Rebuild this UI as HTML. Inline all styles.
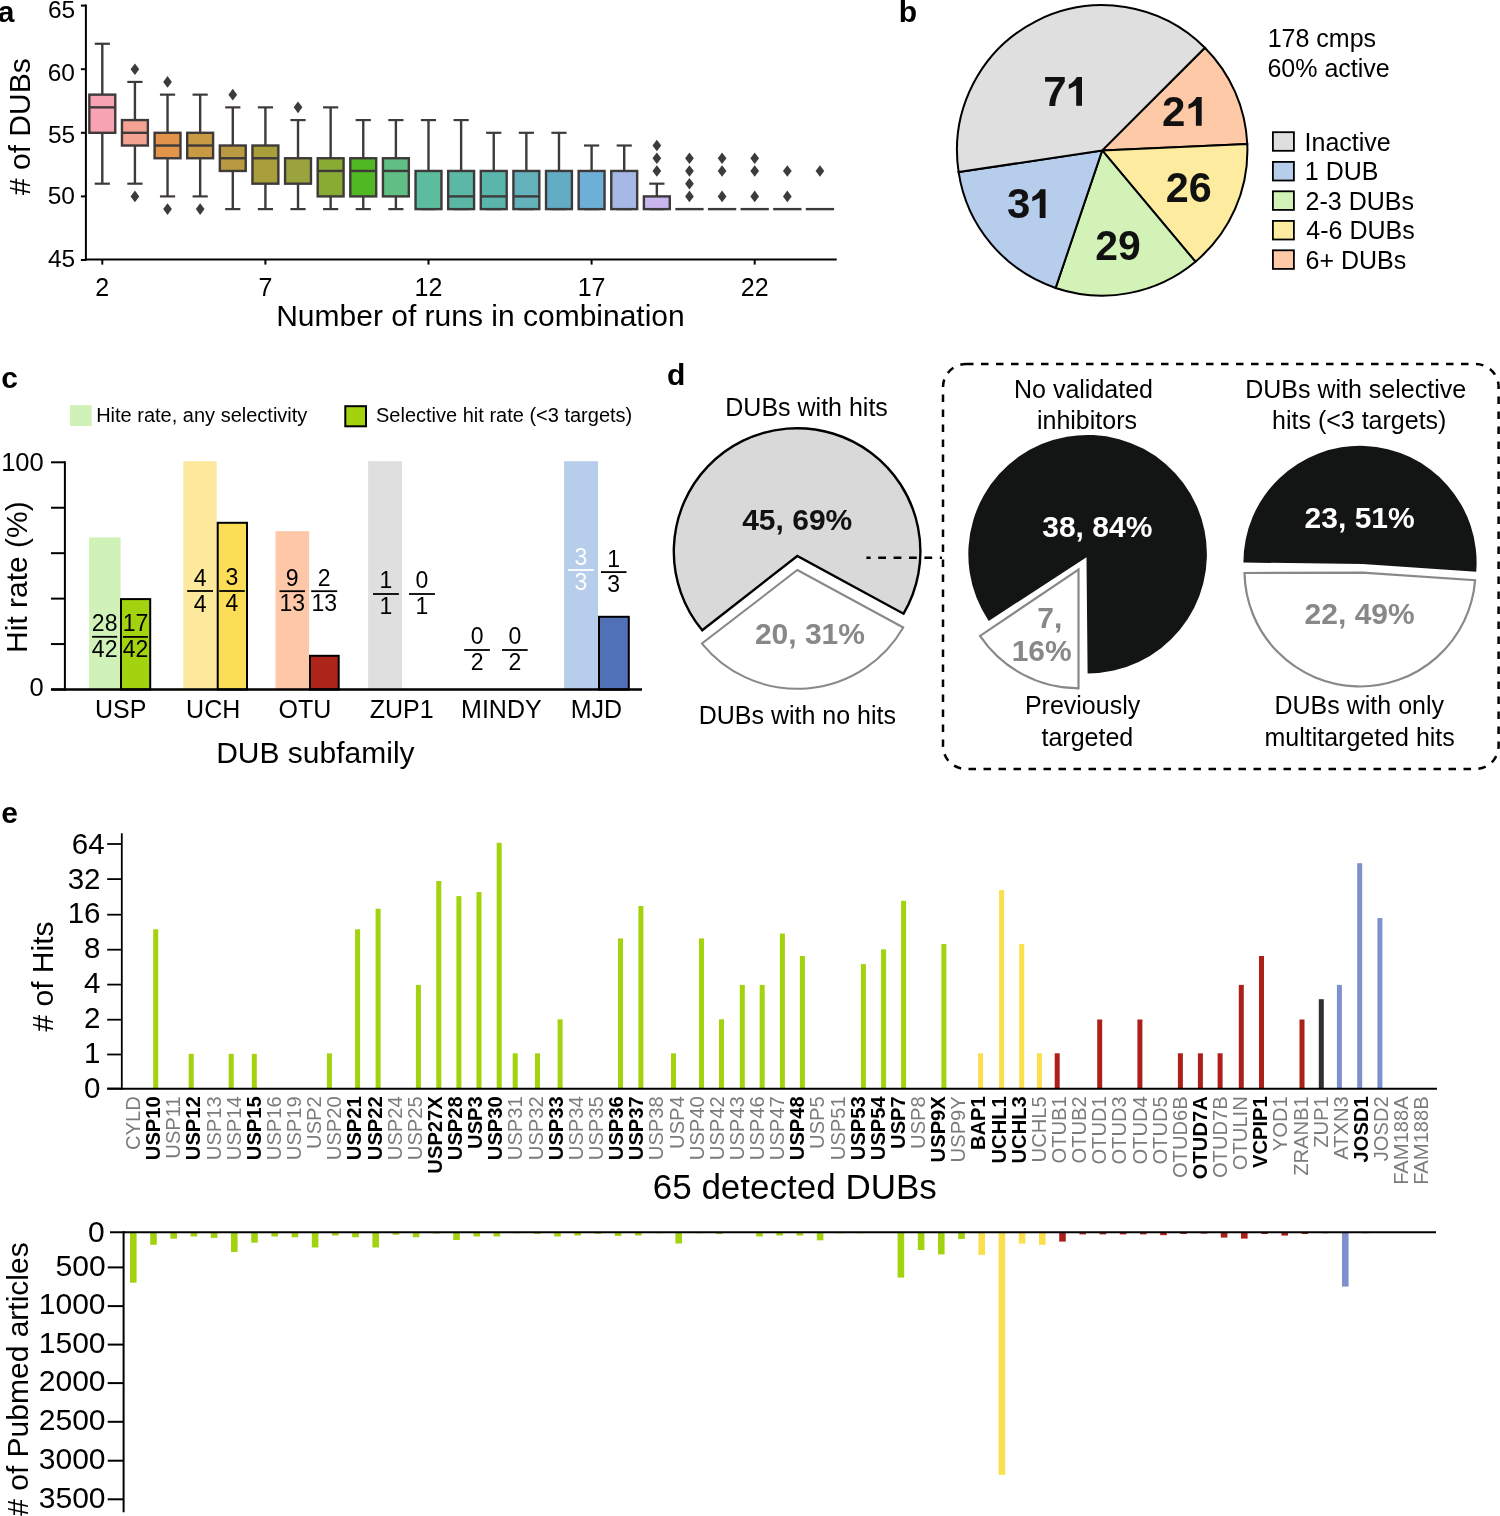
<!DOCTYPE html><html><head><meta charset="utf-8"><style>html,body{margin:0;padding:0;background:#fff;}svg{display:block;will-change:transform;}text{font-family:"Liberation Sans",sans-serif;}</style></head><body>
<svg width="1500" height="1516" viewBox="0 0 1500 1516" font-family="Liberation Sans, sans-serif">
<rect width="1500" height="1516" fill="#fff"/>
<text x="-2.2" y="21.7" font-size="30" font-weight="bold" fill="#000">a</text>
<line x1="85.9" y1="4.6" x2="85.9" y2="260.6" stroke="#000" stroke-width="2"/>
<line x1="84.9" y1="259.6" x2="836.7" y2="259.6" stroke="#000" stroke-width="2"/>
<line x1="80.9" y1="5.6" x2="85.9" y2="5.6" stroke="#000" stroke-width="2"/>
<text x="47.95" y="18.4" font-size="24.5" fill="#000">65</text>
<line x1="80.9" y1="69.2" x2="85.9" y2="69.2" stroke="#000" stroke-width="2"/>
<text x="47.7" y="81" font-size="24.5" fill="#000">60</text>
<line x1="80.9" y1="132.8" x2="85.9" y2="132.8" stroke="#000" stroke-width="2"/>
<text x="47.95" y="142.5" font-size="24.5" fill="#000">55</text>
<line x1="80.9" y1="196.4" x2="85.9" y2="196.4" stroke="#000" stroke-width="2"/>
<text x="47.7" y="204.4" font-size="24.5" fill="#000">50</text>
<line x1="80.9" y1="260" x2="85.9" y2="260" stroke="#000" stroke-width="2"/>
<text x="47.95" y="266.8" font-size="24.5" fill="#000">45</text>
<line x1="102.3" y1="259.6" x2="102.3" y2="264.6" stroke="#000" stroke-width="2"/>
<text x="102.3" y="296.3" font-size="25" text-anchor="middle">2</text>
<line x1="265.4" y1="259.6" x2="265.4" y2="264.6" stroke="#000" stroke-width="2"/>
<text x="265.4" y="296.3" font-size="25" text-anchor="middle">7</text>
<line x1="428.5" y1="259.6" x2="428.5" y2="264.6" stroke="#000" stroke-width="2"/>
<text x="428.5" y="296.3" font-size="25" text-anchor="middle">12</text>
<line x1="591.6" y1="259.6" x2="591.6" y2="264.6" stroke="#000" stroke-width="2"/>
<text x="591.6" y="296.3" font-size="25" text-anchor="middle">17</text>
<line x1="754.7" y1="259.6" x2="754.7" y2="264.6" stroke="#000" stroke-width="2"/>
<text x="754.7" y="296.3" font-size="25" text-anchor="middle">22</text>
<text transform="translate(30 0) rotate(-90)" x="-195" y="0" font-size="30" fill="#000"># of DUBs</text>
<text x="276.2" y="325.7" font-size="30" fill="#000">Number of runs in combination</text>
<line x1="102.3" y1="43.76" x2="102.3" y2="94.64" stroke="#3f3a3a" stroke-width="2.4"/>
<line x1="102.3" y1="132.8" x2="102.3" y2="183.68" stroke="#3f3a3a" stroke-width="2.4"/>
<line x1="94.7" y1="43.76" x2="109.9" y2="43.76" stroke="#3f3a3a" stroke-width="2.2"/>
<line x1="94.7" y1="183.68" x2="109.9" y2="183.68" stroke="#3f3a3a" stroke-width="2.2"/>
<rect x="89.35" y="94.64" width="25.9" height="38.16" fill="#f7a3b4" stroke="#3f3a3a" stroke-width="2.4"/>
<line x1="89.35" y1="107.36" x2="115.25" y2="107.36" stroke="#3f3a3a" stroke-width="2.4"/>
<line x1="134.92" y1="81.92" x2="134.92" y2="120.08" stroke="#3f3a3a" stroke-width="2.4"/>
<line x1="134.92" y1="145.52" x2="134.92" y2="183.68" stroke="#3f3a3a" stroke-width="2.4"/>
<line x1="127.32" y1="81.92" x2="142.52" y2="81.92" stroke="#3f3a3a" stroke-width="2.2"/>
<line x1="127.32" y1="183.68" x2="142.52" y2="183.68" stroke="#3f3a3a" stroke-width="2.2"/>
<rect x="121.97" y="120.08" width="25.9" height="25.44" fill="#f4a292" stroke="#3f3a3a" stroke-width="2.4"/>
<line x1="121.97" y1="132.8" x2="147.87" y2="132.8" stroke="#3f3a3a" stroke-width="2.4"/>
<path d="M134.92 63.4 L139.27 69.2 L134.92 75 L130.57 69.2 Z" fill="#3f3a3a"/>
<path d="M134.92 190.6 L139.27 196.4 L134.92 202.2 L130.57 196.4 Z" fill="#3f3a3a"/>
<line x1="167.54" y1="94.64" x2="167.54" y2="132.8" stroke="#3f3a3a" stroke-width="2.4"/>
<line x1="167.54" y1="158.24" x2="167.54" y2="196.4" stroke="#3f3a3a" stroke-width="2.4"/>
<line x1="159.94" y1="94.64" x2="175.14" y2="94.64" stroke="#3f3a3a" stroke-width="2.2"/>
<line x1="159.94" y1="196.4" x2="175.14" y2="196.4" stroke="#3f3a3a" stroke-width="2.2"/>
<rect x="154.59" y="132.8" width="25.9" height="25.44" fill="#e2944a" stroke="#3f3a3a" stroke-width="2.4"/>
<line x1="154.59" y1="145.52" x2="180.49" y2="145.52" stroke="#3f3a3a" stroke-width="2.4"/>
<path d="M167.54 76.12 L171.89 81.92 L167.54 87.72 L163.19 81.92 Z" fill="#3f3a3a"/>
<path d="M167.54 203.32 L171.89 209.12 L167.54 214.92 L163.19 209.12 Z" fill="#3f3a3a"/>
<line x1="200.16" y1="94.64" x2="200.16" y2="132.8" stroke="#3f3a3a" stroke-width="2.4"/>
<line x1="200.16" y1="158.24" x2="200.16" y2="196.4" stroke="#3f3a3a" stroke-width="2.4"/>
<line x1="192.56" y1="94.64" x2="207.76" y2="94.64" stroke="#3f3a3a" stroke-width="2.2"/>
<line x1="192.56" y1="196.4" x2="207.76" y2="196.4" stroke="#3f3a3a" stroke-width="2.2"/>
<rect x="187.21" y="132.8" width="25.9" height="25.44" fill="#c99a44" stroke="#3f3a3a" stroke-width="2.4"/>
<line x1="187.21" y1="145.52" x2="213.11" y2="145.52" stroke="#3f3a3a" stroke-width="2.4"/>
<path d="M200.16 203.32 L204.51 209.12 L200.16 214.92 L195.81 209.12 Z" fill="#3f3a3a"/>
<line x1="232.78" y1="107.36" x2="232.78" y2="145.52" stroke="#3f3a3a" stroke-width="2.4"/>
<line x1="232.78" y1="170.96" x2="232.78" y2="209.12" stroke="#3f3a3a" stroke-width="2.4"/>
<line x1="225.18" y1="107.36" x2="240.38" y2="107.36" stroke="#3f3a3a" stroke-width="2.2"/>
<line x1="225.18" y1="209.12" x2="240.38" y2="209.12" stroke="#3f3a3a" stroke-width="2.2"/>
<rect x="219.83" y="145.52" width="25.9" height="25.44" fill="#b99a40" stroke="#3f3a3a" stroke-width="2.4"/>
<line x1="219.83" y1="158.24" x2="245.73" y2="158.24" stroke="#3f3a3a" stroke-width="2.4"/>
<path d="M232.78 88.84 L237.13 94.64 L232.78 100.44 L228.43 94.64 Z" fill="#3f3a3a"/>
<line x1="265.4" y1="107.36" x2="265.4" y2="145.52" stroke="#3f3a3a" stroke-width="2.4"/>
<line x1="265.4" y1="183.68" x2="265.4" y2="209.12" stroke="#3f3a3a" stroke-width="2.4"/>
<line x1="257.8" y1="107.36" x2="273" y2="107.36" stroke="#3f3a3a" stroke-width="2.2"/>
<line x1="257.8" y1="209.12" x2="273" y2="209.12" stroke="#3f3a3a" stroke-width="2.2"/>
<rect x="252.45" y="145.52" width="25.9" height="38.16" fill="#a89e3c" stroke="#3f3a3a" stroke-width="2.4"/>
<line x1="252.45" y1="158.24" x2="278.35" y2="158.24" stroke="#3f3a3a" stroke-width="2.4"/>
<line x1="298.02" y1="120.08" x2="298.02" y2="158.24" stroke="#3f3a3a" stroke-width="2.4"/>
<line x1="298.02" y1="183.68" x2="298.02" y2="209.12" stroke="#3f3a3a" stroke-width="2.4"/>
<line x1="290.42" y1="120.08" x2="305.62" y2="120.08" stroke="#3f3a3a" stroke-width="2.2"/>
<line x1="290.42" y1="209.12" x2="305.62" y2="209.12" stroke="#3f3a3a" stroke-width="2.2"/>
<rect x="285.07" y="158.24" width="25.9" height="25.44" fill="#9aa33e" stroke="#3f3a3a" stroke-width="2.4"/>
<path d="M298.02 101.56 L302.37 107.36 L298.02 113.16 L293.67 107.36 Z" fill="#3f3a3a"/>
<line x1="330.64" y1="107.36" x2="330.64" y2="158.24" stroke="#3f3a3a" stroke-width="2.4"/>
<line x1="330.64" y1="196.4" x2="330.64" y2="209.12" stroke="#3f3a3a" stroke-width="2.4"/>
<line x1="323.04" y1="107.36" x2="338.24" y2="107.36" stroke="#3f3a3a" stroke-width="2.2"/>
<line x1="323.04" y1="209.12" x2="338.24" y2="209.12" stroke="#3f3a3a" stroke-width="2.2"/>
<rect x="317.69" y="158.24" width="25.9" height="38.16" fill="#87ab33" stroke="#3f3a3a" stroke-width="2.4"/>
<line x1="317.69" y1="170.96" x2="343.59" y2="170.96" stroke="#3f3a3a" stroke-width="2.4"/>
<line x1="363.26" y1="120.08" x2="363.26" y2="158.24" stroke="#3f3a3a" stroke-width="2.4"/>
<line x1="363.26" y1="196.4" x2="363.26" y2="209.12" stroke="#3f3a3a" stroke-width="2.4"/>
<line x1="355.66" y1="120.08" x2="370.86" y2="120.08" stroke="#3f3a3a" stroke-width="2.2"/>
<line x1="355.66" y1="209.12" x2="370.86" y2="209.12" stroke="#3f3a3a" stroke-width="2.2"/>
<rect x="350.31" y="158.24" width="25.9" height="38.16" fill="#4fb823" stroke="#3f3a3a" stroke-width="2.4"/>
<line x1="350.31" y1="170.96" x2="376.21" y2="170.96" stroke="#3f3a3a" stroke-width="2.4"/>
<line x1="395.88" y1="120.08" x2="395.88" y2="158.24" stroke="#3f3a3a" stroke-width="2.4"/>
<line x1="395.88" y1="196.4" x2="395.88" y2="209.12" stroke="#3f3a3a" stroke-width="2.4"/>
<line x1="388.28" y1="120.08" x2="403.48" y2="120.08" stroke="#3f3a3a" stroke-width="2.2"/>
<line x1="388.28" y1="209.12" x2="403.48" y2="209.12" stroke="#3f3a3a" stroke-width="2.2"/>
<rect x="382.93" y="158.24" width="25.9" height="38.16" fill="#5fbf85" stroke="#3f3a3a" stroke-width="2.4"/>
<line x1="382.93" y1="170.96" x2="408.83" y2="170.96" stroke="#3f3a3a" stroke-width="2.4"/>
<line x1="428.5" y1="120.08" x2="428.5" y2="170.96" stroke="#3f3a3a" stroke-width="2.4"/>
<line x1="420.9" y1="120.08" x2="436.1" y2="120.08" stroke="#3f3a3a" stroke-width="2.2"/>
<line x1="420.9" y1="209.12" x2="436.1" y2="209.12" stroke="#3f3a3a" stroke-width="2.2"/>
<rect x="415.55" y="170.96" width="25.9" height="38.16" fill="#5bbd9e" stroke="#3f3a3a" stroke-width="2.4"/>
<line x1="461.12" y1="120.08" x2="461.12" y2="170.96" stroke="#3f3a3a" stroke-width="2.4"/>
<line x1="453.52" y1="120.08" x2="468.72" y2="120.08" stroke="#3f3a3a" stroke-width="2.2"/>
<line x1="453.52" y1="209.12" x2="468.72" y2="209.12" stroke="#3f3a3a" stroke-width="2.2"/>
<rect x="448.17" y="170.96" width="25.9" height="38.16" fill="#5bb8a6" stroke="#3f3a3a" stroke-width="2.4"/>
<line x1="448.17" y1="196.4" x2="474.07" y2="196.4" stroke="#3f3a3a" stroke-width="2.4"/>
<line x1="493.74" y1="132.8" x2="493.74" y2="170.96" stroke="#3f3a3a" stroke-width="2.4"/>
<line x1="486.14" y1="132.8" x2="501.34" y2="132.8" stroke="#3f3a3a" stroke-width="2.2"/>
<line x1="486.14" y1="209.12" x2="501.34" y2="209.12" stroke="#3f3a3a" stroke-width="2.2"/>
<rect x="480.79" y="170.96" width="25.9" height="38.16" fill="#5ab5ad" stroke="#3f3a3a" stroke-width="2.4"/>
<line x1="480.79" y1="196.4" x2="506.69" y2="196.4" stroke="#3f3a3a" stroke-width="2.4"/>
<line x1="526.36" y1="132.8" x2="526.36" y2="170.96" stroke="#3f3a3a" stroke-width="2.4"/>
<line x1="518.76" y1="132.8" x2="533.96" y2="132.8" stroke="#3f3a3a" stroke-width="2.2"/>
<line x1="518.76" y1="209.12" x2="533.96" y2="209.12" stroke="#3f3a3a" stroke-width="2.2"/>
<rect x="513.41" y="170.96" width="25.9" height="38.16" fill="#62b1bb" stroke="#3f3a3a" stroke-width="2.4"/>
<line x1="513.41" y1="196.4" x2="539.31" y2="196.4" stroke="#3f3a3a" stroke-width="2.4"/>
<line x1="558.98" y1="132.8" x2="558.98" y2="170.96" stroke="#3f3a3a" stroke-width="2.4"/>
<line x1="551.38" y1="132.8" x2="566.58" y2="132.8" stroke="#3f3a3a" stroke-width="2.2"/>
<line x1="551.38" y1="209.12" x2="566.58" y2="209.12" stroke="#3f3a3a" stroke-width="2.2"/>
<rect x="546.03" y="170.96" width="25.9" height="38.16" fill="#62acc4" stroke="#3f3a3a" stroke-width="2.4"/>
<line x1="591.6" y1="145.52" x2="591.6" y2="170.96" stroke="#3f3a3a" stroke-width="2.4"/>
<line x1="584" y1="145.52" x2="599.2" y2="145.52" stroke="#3f3a3a" stroke-width="2.2"/>
<line x1="584" y1="209.12" x2="599.2" y2="209.12" stroke="#3f3a3a" stroke-width="2.2"/>
<rect x="578.65" y="170.96" width="25.9" height="38.16" fill="#6eafd8" stroke="#3f3a3a" stroke-width="2.4"/>
<line x1="624.22" y1="145.52" x2="624.22" y2="170.96" stroke="#3f3a3a" stroke-width="2.4"/>
<line x1="616.62" y1="145.52" x2="631.82" y2="145.52" stroke="#3f3a3a" stroke-width="2.2"/>
<line x1="616.62" y1="209.12" x2="631.82" y2="209.12" stroke="#3f3a3a" stroke-width="2.2"/>
<rect x="611.27" y="170.96" width="25.9" height="38.16" fill="#a6b9e6" stroke="#3f3a3a" stroke-width="2.4"/>
<line x1="656.84" y1="183.68" x2="656.84" y2="196.4" stroke="#3f3a3a" stroke-width="2.4"/>
<line x1="649.24" y1="183.68" x2="664.44" y2="183.68" stroke="#3f3a3a" stroke-width="2.2"/>
<line x1="649.24" y1="209.12" x2="664.44" y2="209.12" stroke="#3f3a3a" stroke-width="2.2"/>
<rect x="643.89" y="196.4" width="25.9" height="12.72" fill="#c9b6ee" stroke="#3f3a3a" stroke-width="2.4"/>
<path d="M656.84 165.16 L661.19 170.96 L656.84 176.76 L652.49 170.96 Z" fill="#3f3a3a"/>
<path d="M656.84 152.44 L661.19 158.24 L656.84 164.04 L652.49 158.24 Z" fill="#3f3a3a"/>
<path d="M656.84 139.72 L661.19 145.52 L656.84 151.32 L652.49 145.52 Z" fill="#3f3a3a"/>
<line x1="675.31" y1="209.12" x2="703.61" y2="209.12" stroke="#3f3a3a" stroke-width="2.4"/>
<path d="M689.46 190.6 L693.81 196.4 L689.46 202.2 L685.11 196.4 Z" fill="#3f3a3a"/>
<path d="M689.46 177.88 L693.81 183.68 L689.46 189.48 L685.11 183.68 Z" fill="#3f3a3a"/>
<path d="M689.46 165.16 L693.81 170.96 L689.46 176.76 L685.11 170.96 Z" fill="#3f3a3a"/>
<path d="M689.46 152.44 L693.81 158.24 L689.46 164.04 L685.11 158.24 Z" fill="#3f3a3a"/>
<line x1="707.93" y1="209.12" x2="736.23" y2="209.12" stroke="#3f3a3a" stroke-width="2.4"/>
<path d="M722.08 190.6 L726.43 196.4 L722.08 202.2 L717.73 196.4 Z" fill="#3f3a3a"/>
<path d="M722.08 165.16 L726.43 170.96 L722.08 176.76 L717.73 170.96 Z" fill="#3f3a3a"/>
<path d="M722.08 152.44 L726.43 158.24 L722.08 164.04 L717.73 158.24 Z" fill="#3f3a3a"/>
<line x1="740.55" y1="209.12" x2="768.85" y2="209.12" stroke="#3f3a3a" stroke-width="2.4"/>
<path d="M754.7 190.6 L759.05 196.4 L754.7 202.2 L750.35 196.4 Z" fill="#3f3a3a"/>
<path d="M754.7 165.16 L759.05 170.96 L754.7 176.76 L750.35 170.96 Z" fill="#3f3a3a"/>
<path d="M754.7 152.44 L759.05 158.24 L754.7 164.04 L750.35 158.24 Z" fill="#3f3a3a"/>
<line x1="773.17" y1="209.12" x2="801.47" y2="209.12" stroke="#3f3a3a" stroke-width="2.4"/>
<path d="M787.32 190.6 L791.67 196.4 L787.32 202.2 L782.97 196.4 Z" fill="#3f3a3a"/>
<path d="M787.32 165.16 L791.67 170.96 L787.32 176.76 L782.97 170.96 Z" fill="#3f3a3a"/>
<line x1="805.79" y1="209.12" x2="834.09" y2="209.12" stroke="#3f3a3a" stroke-width="2.4"/>
<path d="M819.94 165.16 L824.29 170.96 L819.94 176.76 L815.59 170.96 Z" fill="#3f3a3a"/>
<text x="898.7" y="21.5" font-size="30" font-weight="bold" fill="#000">b</text>
<path d="M1102.2 150.4 L1204.87 47.73 A145.2 145.2 0 0 1 1247.26 144 Z" fill="#fec9a6" stroke="#000" stroke-width="2" stroke-linejoin="miter"/>
<path d="M1102.2 150.4 L1247.26 144 A145.2 145.2 0 0 1 1195.42 261.72 Z" fill="#fdeca0" stroke="#000" stroke-width="2" stroke-linejoin="miter"/>
<path d="M1102.2 150.4 L1195.42 261.72 A145.2 145.2 0 0 1 1055.63 287.93 Z" fill="#d3f2b7" stroke="#000" stroke-width="2" stroke-linejoin="miter"/>
<path d="M1102.2 150.4 L1055.63 287.93 A145.2 145.2 0 0 1 958.63 172.1 Z" fill="#b7cdec" stroke="#000" stroke-width="2" stroke-linejoin="miter"/>
<path d="M1102.2 150.4 L958.63 172.1 A145.2 145.2 0 0 1 1204.87 47.73 Z" fill="#e0dfe0" stroke="#000" stroke-width="2" stroke-linejoin="miter"/>
<text x="1165.72" y="202.45" font-size="42" font-weight="bold" fill="#111" textLength="45.97" lengthAdjust="spacingAndGlyphs">26</text>
<text x="1095.19" y="260.45" font-size="42" font-weight="bold" fill="#111" textLength="45.43" lengthAdjust="spacingAndGlyphs">29</text>
<text x="1043.25" y="105.8" font-size="42" font-weight="bold" fill="#111">7</text>
<path d="M1082 77 L1082 105.8 L1076.2 105.8 L1076.2 85.6 L1068.8 89 L1068.8 84.6 Q1074.2 82 1076.8 77 Z" fill="#111"/>
<text x="1162" y="125.7" font-size="42" font-weight="bold" fill="#111">2</text>
<path d="M1201.7 96.9 L1201.7 125.7 L1195.9 125.7 L1195.9 105.5 L1188.5 108.9 L1188.5 104.5 Q1193.9 101.9 1196.5 96.9 Z" fill="#111"/>
<text x="1007.1" y="218.1" font-size="42" font-weight="bold" fill="#111">3</text>
<path d="M1045.5 189.3 L1045.5 218.1 L1039.7 218.1 L1039.7 197.9 L1032.3 201.3 L1032.3 196.9 Q1037.7 194.3 1040.3 189.3 Z" fill="#111"/>
<text x="1267.7" y="47.3" font-size="25" fill="#000">178 cmps</text>
<text x="1267.45" y="77.3" font-size="25" fill="#000">60% active</text>
<rect x="1272.9" y="132.2" width="21" height="18.6" fill="#e0dfe0" stroke="#000" stroke-width="1.8"/>
<text x="1304.55" y="150.7" font-size="25" fill="#000">Inactive</text>
<rect x="1272.9" y="161.9" width="21" height="18.6" fill="#b7cdec" stroke="#000" stroke-width="1.8"/>
<text x="1304.8" y="180.4" font-size="25" fill="#000">1 DUB</text>
<rect x="1272.9" y="191.3" width="21" height="18.6" fill="#d3f2b7" stroke="#000" stroke-width="1.8"/>
<text x="1305.55" y="209.8" font-size="25" fill="#000">2-3 DUBs</text>
<rect x="1272.9" y="220.9" width="21" height="18.6" fill="#fdeca0" stroke="#000" stroke-width="1.8"/>
<text x="1306.3" y="239.4" font-size="25" fill="#000">4-6 DUBs</text>
<rect x="1272.9" y="250.3" width="21" height="18.6" fill="#fec9a6" stroke="#000" stroke-width="1.8"/>
<text x="1305.55" y="268.8" font-size="25" fill="#000">6+ DUBs</text>
<text x="1.35" y="388" font-size="30" font-weight="bold" fill="#000">c</text>
<rect x="70" y="405.1" width="21.7" height="20.9" fill="#d0f2b8"/>
<text x="96.15" y="421.6" font-size="20" fill="#000">Hite rate, any selectivity</text>
<rect x="345.3" y="406.2" width="20.7" height="20.1" fill="#a3d20f" stroke="#000" stroke-width="2"/>
<text x="376" y="422" font-size="20" fill="#000">Selective hit rate (&lt;3 targets)</text>
<rect x="89.1" y="537.4" width="31.5" height="152.1" fill="#d0f2b8"/>
<rect x="183.3" y="461.2" width="33.4" height="228.3" fill="#fde99b"/>
<rect x="275.5" y="531.2" width="33.6" height="158.3" fill="#fdc7a8"/>
<rect x="368.1" y="461.2" width="33.9" height="228.3" fill="#e0dfe0"/>
<rect x="564.1" y="461.2" width="33.9" height="228.3" fill="#b7cdec"/>
<rect x="121" y="599.1" width="29.2" height="90.4" fill="#a3d20f" stroke="#000" stroke-width="2"/>
<rect x="217.7" y="522.8" width="29.3" height="166.7" fill="#fbde55" stroke="#000" stroke-width="2"/>
<rect x="310" y="655.8" width="28.7" height="33.7" fill="#ad241b" stroke="#000" stroke-width="2"/>
<rect x="599" y="616.8" width="29.8" height="72.7" fill="#5070b8" stroke="#000" stroke-width="2"/>
<line x1="64.9" y1="461.3" x2="64.9" y2="690.7" stroke="#000" stroke-width="2"/>
<line x1="51" y1="689.5" x2="64.9" y2="689.5" stroke="#000" stroke-width="2"/>
<line x1="51" y1="644.06" x2="64.9" y2="644.06" stroke="#000" stroke-width="2"/>
<line x1="51" y1="598.62" x2="64.9" y2="598.62" stroke="#000" stroke-width="2"/>
<line x1="51" y1="553.18" x2="64.9" y2="553.18" stroke="#000" stroke-width="2"/>
<line x1="51" y1="507.74" x2="64.9" y2="507.74" stroke="#000" stroke-width="2"/>
<line x1="51" y1="462.3" x2="64.9" y2="462.3" stroke="#000" stroke-width="2"/>
<line x1="51" y1="689.5" x2="642" y2="689.5" stroke="#000" stroke-width="2.4"/>
<text x="43.7" y="470.5" font-size="25.5" text-anchor="end">100</text>
<text x="43.7" y="695.5" font-size="25.5" text-anchor="end">0</text>
<text transform="translate(26.8 0) rotate(-90)" x="-652.95" y="0" font-size="30" fill="#000">Hit rate (%)</text>
<text x="95" y="717.8" font-size="25" fill="#000">USP</text>
<text x="186.1" y="717.8" font-size="25" fill="#000">UCH</text>
<text x="278.57" y="717.8" font-size="25" fill="#000">OTU</text>
<text x="461.1" y="717.8" font-size="25" fill="#000">MINDY</text>
<text x="570.7" y="717.8" font-size="25" fill="#000">MJD</text>
<text x="369.7" y="717.8" font-size="25">ZUP1</text>
<text x="216.2" y="762.6" font-size="30" fill="#000">DUB subfamily</text>
<text x="104.65" y="631" font-size="23" fill="#000" text-anchor="middle">28</text>
<line x1="92.1" y1="636.8" x2="117.2" y2="636.8" stroke="#000" stroke-width="1.8"/>
<text x="104.65" y="656.5" font-size="23" fill="#000" text-anchor="middle">42</text>
<text x="135.45" y="631.3" font-size="23" fill="#000" text-anchor="middle">17</text>
<line x1="123" y1="636.9" x2="147.9" y2="636.9" stroke="#000" stroke-width="1.8"/>
<text x="135.45" y="656.8" font-size="23" fill="#000" text-anchor="middle">42</text>
<text x="200.1" y="585.8" font-size="23" fill="#000" text-anchor="middle">4</text>
<line x1="187.2" y1="591" x2="213" y2="591" stroke="#000" stroke-width="1.8"/>
<text x="200.1" y="611.5" font-size="23" fill="#000" text-anchor="middle">4</text>
<text x="232" y="585.3" font-size="23" fill="#000" text-anchor="middle">3</text>
<line x1="219.2" y1="591" x2="244.8" y2="591" stroke="#000" stroke-width="1.8"/>
<text x="232" y="610.8" font-size="23" fill="#000" text-anchor="middle">4</text>
<text x="292.25" y="585.8" font-size="23" fill="#000" text-anchor="middle">9</text>
<line x1="279.5" y1="591.2" x2="305" y2="591.2" stroke="#000" stroke-width="1.8"/>
<text x="292.25" y="611.3" font-size="23" fill="#000" text-anchor="middle">13</text>
<text x="324.2" y="585.7" font-size="23" fill="#000" text-anchor="middle">2</text>
<line x1="311.2" y1="591.2" x2="337.2" y2="591.2" stroke="#000" stroke-width="1.8"/>
<text x="324.2" y="611.3" font-size="23" fill="#000" text-anchor="middle">13</text>
<text x="385.95" y="587.9" font-size="23" fill="#000" text-anchor="middle">1</text>
<line x1="373" y1="594" x2="398.9" y2="594" stroke="#000" stroke-width="1.8"/>
<text x="385.95" y="614" font-size="23" fill="#000" text-anchor="middle">1</text>
<text x="421.95" y="588.3" font-size="23" fill="#000" text-anchor="middle">0</text>
<line x1="409" y1="594" x2="434.9" y2="594" stroke="#000" stroke-width="1.8"/>
<text x="421.95" y="614.3" font-size="23" fill="#000" text-anchor="middle">1</text>
<text x="477.05" y="644.2" font-size="23" fill="#000" text-anchor="middle">0</text>
<line x1="464.2" y1="650" x2="489.9" y2="650" stroke="#000" stroke-width="1.8"/>
<text x="477.05" y="669.7" font-size="23" fill="#000" text-anchor="middle">2</text>
<text x="514.85" y="644.2" font-size="23" fill="#000" text-anchor="middle">0</text>
<line x1="502" y1="650" x2="527.7" y2="650" stroke="#000" stroke-width="1.8"/>
<text x="514.85" y="669.7" font-size="23" fill="#000" text-anchor="middle">2</text>
<text x="580.95" y="564.5" font-size="23" fill="#fff" text-anchor="middle">3</text>
<line x1="568" y1="570" x2="593.9" y2="570" stroke="#fff" stroke-width="1.8"/>
<text x="580.95" y="590.2" font-size="23" fill="#fff" text-anchor="middle">3</text>
<text x="613.75" y="566.9" font-size="23" fill="#000" text-anchor="middle">1</text>
<line x1="601" y1="572.1" x2="626.5" y2="572.1" stroke="#000" stroke-width="1.8"/>
<text x="613.75" y="592.4" font-size="23" fill="#000" text-anchor="middle">3</text>
<text x="667.05" y="384.8" font-size="30" font-weight="bold" fill="#000">d</text>
<rect x="943" y="364" width="555.6" height="405" rx="23" ry="23" fill="none" stroke="#000" stroke-width="2.5" stroke-dasharray="7.5 7.5"/>
<line x1="866.4" y1="557.7" x2="942" y2="557.7" stroke="#000" stroke-width="2.4" stroke-dasharray="7.8 7.6" stroke-dashoffset="3.6"/>
<path d="M797.3 556 L702.23 630.26 A123.3 123.3 0 1 1 903.56 613.71 Z" fill="#d9d9d9" stroke="#000" stroke-width="2.4" stroke-linejoin="miter"/>
<path d="M797.3 570 L903.27 627.5 A122.6 122.6 0 0 1 701.96 643.52 Z" fill="#fff" stroke="#888" stroke-width="2" stroke-linejoin="miter"/>
<line x1="866.4" y1="557.7" x2="920" y2="557.7" stroke="#000" stroke-width="2.4" stroke-dasharray="7.8 7.6" stroke-dashoffset="3.6"/>
<text x="742.2" y="529.7" font-size="30" font-weight="bold" fill="#111">45, 69%</text>
<text x="754.9" y="644.4" font-size="30" font-weight="bold" fill="#888">20, 31%</text>
<text x="725.3" y="416" font-size="25" fill="#000">DUBs with hits</text>
<text x="698.7" y="724.3" font-size="25" fill="#000">DUBs with no hits</text>
<path d="M1086.5 557.2 L988.7 620.91 A119.3 119.3 0 1 1 1087.6 673.5 Z" fill="#131515"/>
<path d="M1078.5 569.5 L1078.5 688.3 A118.8 118.8 0 0 1 980.01 635.93 Z" fill="#fff" stroke="#888" stroke-width="2.2" stroke-linejoin="miter"/>
<text x="1042.25" y="537.2" font-size="30" font-weight="bold" fill="#fff">38, 84%</text>
<text x="1037.35" y="628.1" font-size="30" font-weight="bold" fill="#888">7,</text>
<text x="1011.7" y="660.8" font-size="30" font-weight="bold" fill="#888">16%</text>
<text x="1014" y="398" font-size="25" fill="#000">No validated</text>
<text x="1036.95" y="429.3" font-size="25" fill="#000">inhibitors</text>
<text x="1024.9" y="714" font-size="25" fill="#000">Previously</text>
<text x="1041.5" y="746.3" font-size="25" fill="#000">targeted</text>
<path d="M1362.3 564.1 L1243.4 562.5 A116.6 116.6 0 1 1 1476.22 571.85 Z" fill="#131515"/>
<path d="M1362.3 572.7 L1475.13 580.26 A115.5 115.5 0 0 1 1244.52 573.02 Z" fill="#fff" stroke="#888" stroke-width="2.2" stroke-linejoin="miter"/>
<text x="1304.6" y="528.1" font-size="30" font-weight="bold" fill="#fff">23, 51%</text>
<text x="1304.6" y="624" font-size="30" font-weight="bold" fill="#888">22, 49%</text>
<text x="1245.2" y="398" font-size="25" fill="#000">DUBs with selective</text>
<text x="1272.05" y="429.3" font-size="25" fill="#000">hits (&lt;3 targets)</text>
<text x="1274.5" y="714" font-size="25" fill="#000">DUBs with only</text>
<text x="1264.45" y="746.3" font-size="25" fill="#000">multitargeted hits</text>
<text x="1.15" y="823.4" font-size="30" font-weight="bold" fill="#000">e</text>
<rect x="153.2" y="929.3" width="5" height="159.7" fill="#a3d20f"/>
<rect x="188.7" y="1053.8" width="5" height="35.2" fill="#a3d20f"/>
<rect x="228.7" y="1053.8" width="5" height="35.2" fill="#a3d20f"/>
<rect x="251.8" y="1053.8" width="5" height="35.2" fill="#a3d20f"/>
<rect x="326.9" y="1053.3" width="5" height="35.7" fill="#a3d20f"/>
<rect x="355.1" y="929.3" width="5" height="159.7" fill="#a3d20f"/>
<rect x="375.6" y="908.7" width="5" height="180.3" fill="#a3d20f"/>
<rect x="415.9" y="984.9" width="5" height="104.1" fill="#a3d20f"/>
<rect x="436.3" y="881" width="5" height="208" fill="#a3d20f"/>
<rect x="456.4" y="896.1" width="5" height="192.9" fill="#a3d20f"/>
<rect x="476.5" y="892.1" width="5" height="196.9" fill="#a3d20f"/>
<rect x="496.7" y="842.8" width="5" height="246.2" fill="#a3d20f"/>
<rect x="512.7" y="1053.3" width="5" height="35.7" fill="#a3d20f"/>
<rect x="535" y="1053.3" width="5" height="35.7" fill="#a3d20f"/>
<rect x="557.6" y="1019.3" width="5" height="69.7" fill="#a3d20f"/>
<rect x="618" y="938.4" width="5" height="150.6" fill="#a3d20f"/>
<rect x="638.4" y="906" width="5" height="183" fill="#a3d20f"/>
<rect x="671" y="1053.3" width="5" height="35.7" fill="#a3d20f"/>
<rect x="699" y="938.4" width="5" height="150.6" fill="#a3d20f"/>
<rect x="719" y="1019.3" width="5" height="69.7" fill="#a3d20f"/>
<rect x="739.8" y="984.9" width="5" height="104.1" fill="#a3d20f"/>
<rect x="759.7" y="984.9" width="5" height="104.1" fill="#a3d20f"/>
<rect x="779.9" y="933.5" width="5" height="155.5" fill="#a3d20f"/>
<rect x="799.9" y="956" width="5" height="133" fill="#a3d20f"/>
<rect x="860.9" y="964.1" width="5" height="124.9" fill="#a3d20f"/>
<rect x="881.1" y="949.4" width="5" height="139.6" fill="#a3d20f"/>
<rect x="901.1" y="900.8" width="5" height="188.2" fill="#a3d20f"/>
<rect x="941.4" y="944" width="5" height="145" fill="#a3d20f"/>
<rect x="978.1" y="1053.3" width="5" height="35.7" fill="#fbdf4c"/>
<rect x="999.1" y="890" width="5" height="199" fill="#fbdf4c"/>
<rect x="1019.2" y="944" width="5" height="145" fill="#fbdf4c"/>
<rect x="1036.9" y="1053.3" width="5" height="35.7" fill="#fbdf4c"/>
<rect x="1054.7" y="1053.3" width="5" height="35.7" fill="#ab2119"/>
<rect x="1097.2" y="1019.5" width="5" height="69.5" fill="#ab2119"/>
<rect x="1137.4" y="1019.5" width="5" height="69.5" fill="#ab2119"/>
<rect x="1177.9" y="1053.3" width="5" height="35.7" fill="#ab2119"/>
<rect x="1197.9" y="1053.3" width="5" height="35.7" fill="#ab2119"/>
<rect x="1217.6" y="1053.3" width="5" height="35.7" fill="#ab2119"/>
<rect x="1238.8" y="984.9" width="5" height="104.1" fill="#ab2119"/>
<rect x="1259" y="956" width="5" height="133" fill="#ab2119"/>
<rect x="1299.5" y="1019.5" width="5" height="69.5" fill="#ab2119"/>
<rect x="1318.8" y="999.2" width="5" height="89.8" fill="#303030"/>
<rect x="1336.9" y="984.9" width="5" height="104.1" fill="#7f90cf"/>
<rect x="1357.2" y="863.2" width="5" height="225.8" fill="#7f90cf"/>
<rect x="1377.4" y="918.1" width="5" height="170.9" fill="#7f90cf"/>
<line x1="121.8" y1="833.2" x2="121.8" y2="1089.8" stroke="#000" stroke-width="1.8"/>
<line x1="107.2" y1="1088.8" x2="1437" y2="1088.8" stroke="#000" stroke-width="2"/>
<line x1="107.2" y1="844" x2="121.8" y2="844" stroke="#000" stroke-width="1.8"/>
<text x="104.6" y="853.8" font-size="29.5" text-anchor="end">64</text>
<line x1="107.2" y1="879.1" x2="121.8" y2="879.1" stroke="#000" stroke-width="1.8"/>
<text x="100.5" y="888.6" font-size="29.5" text-anchor="end">32</text>
<line x1="107.2" y1="914.7" x2="121.8" y2="914.7" stroke="#000" stroke-width="1.8"/>
<text x="100.5" y="923.3" font-size="29.5" text-anchor="end">16</text>
<line x1="107.2" y1="949.7" x2="121.8" y2="949.7" stroke="#000" stroke-width="1.8"/>
<text x="100.5" y="958.4" font-size="29.5" text-anchor="end">8</text>
<line x1="107.2" y1="984.6" x2="121.8" y2="984.6" stroke="#000" stroke-width="1.8"/>
<text x="100.5" y="993.1" font-size="29.5" text-anchor="end">4</text>
<line x1="107.2" y1="1019.7" x2="121.8" y2="1019.7" stroke="#000" stroke-width="1.8"/>
<text x="100.5" y="1027.8" font-size="29.5" text-anchor="end">2</text>
<line x1="107.2" y1="1054.5" x2="121.8" y2="1054.5" stroke="#000" stroke-width="1.8"/>
<text x="100.5" y="1062.6" font-size="29.5" text-anchor="end">1</text>
<line x1="107.2" y1="1088.6" x2="121.8" y2="1088.6" stroke="#000" stroke-width="1.8"/>
<text x="100.5" y="1097.5" font-size="29.5" text-anchor="end">0</text>
<text transform="translate(52.6 0) rotate(-90)" x="-1031.53" y="0" font-size="30" fill="#000"># of Hits</text>
<text transform="translate(140 1096.2) rotate(-90)" text-anchor="end" font-size="20.2" fill="#7b7b7b">CYLD</text>
<text transform="translate(160.13 1096.2) rotate(-90)" text-anchor="end" font-size="20.2" font-weight="bold" fill="#000">USP10</text>
<text transform="translate(180.26 1096.2) rotate(-90)" text-anchor="end" font-size="20.2" fill="#7b7b7b">USP11</text>
<text transform="translate(200.39 1096.2) rotate(-90)" text-anchor="end" font-size="20.2" font-weight="bold" fill="#000">USP12</text>
<text transform="translate(220.52 1096.2) rotate(-90)" text-anchor="end" font-size="20.2" fill="#7b7b7b">USP13</text>
<text transform="translate(240.65 1096.2) rotate(-90)" text-anchor="end" font-size="20.2" fill="#7b7b7b">USP14</text>
<text transform="translate(260.78 1096.2) rotate(-90)" text-anchor="end" font-size="20.2" font-weight="bold" fill="#000">USP15</text>
<text transform="translate(280.91 1096.2) rotate(-90)" text-anchor="end" font-size="20.2" fill="#7b7b7b">USP16</text>
<text transform="translate(301.04 1096.2) rotate(-90)" text-anchor="end" font-size="20.2" fill="#7b7b7b">USP19</text>
<text transform="translate(321.17 1096.2) rotate(-90)" text-anchor="end" font-size="20.2" fill="#7b7b7b">USP2</text>
<text transform="translate(341.3 1096.2) rotate(-90)" text-anchor="end" font-size="20.2" fill="#7b7b7b">USP20</text>
<text transform="translate(361.43 1096.2) rotate(-90)" text-anchor="end" font-size="20.2" font-weight="bold" fill="#000">USP21</text>
<text transform="translate(381.56 1096.2) rotate(-90)" text-anchor="end" font-size="20.2" font-weight="bold" fill="#000">USP22</text>
<text transform="translate(401.69 1096.2) rotate(-90)" text-anchor="end" font-size="20.2" fill="#7b7b7b">USP24</text>
<text transform="translate(421.82 1096.2) rotate(-90)" text-anchor="end" font-size="20.2" fill="#7b7b7b">USP25</text>
<text transform="translate(441.95 1096.2) rotate(-90)" text-anchor="end" font-size="20.2" font-weight="bold" fill="#000">USP27X</text>
<text transform="translate(462.08 1096.2) rotate(-90)" text-anchor="end" font-size="20.2" font-weight="bold" fill="#000">USP28</text>
<text transform="translate(482.21 1096.2) rotate(-90)" text-anchor="end" font-size="20.2" font-weight="bold" fill="#000">USP3</text>
<text transform="translate(502.34 1096.2) rotate(-90)" text-anchor="end" font-size="20.2" font-weight="bold" fill="#000">USP30</text>
<text transform="translate(522.47 1096.2) rotate(-90)" text-anchor="end" font-size="20.2" fill="#7b7b7b">USP31</text>
<text transform="translate(542.6 1096.2) rotate(-90)" text-anchor="end" font-size="20.2" fill="#7b7b7b">USP32</text>
<text transform="translate(562.73 1096.2) rotate(-90)" text-anchor="end" font-size="20.2" font-weight="bold" fill="#000">USP33</text>
<text transform="translate(582.86 1096.2) rotate(-90)" text-anchor="end" font-size="20.2" fill="#7b7b7b">USP34</text>
<text transform="translate(602.99 1096.2) rotate(-90)" text-anchor="end" font-size="20.2" fill="#7b7b7b">USP35</text>
<text transform="translate(623.12 1096.2) rotate(-90)" text-anchor="end" font-size="20.2" font-weight="bold" fill="#000">USP36</text>
<text transform="translate(643.25 1096.2) rotate(-90)" text-anchor="end" font-size="20.2" font-weight="bold" fill="#000">USP37</text>
<text transform="translate(663.38 1096.2) rotate(-90)" text-anchor="end" font-size="20.2" fill="#7b7b7b">USP38</text>
<text transform="translate(683.51 1096.2) rotate(-90)" text-anchor="end" font-size="20.2" fill="#7b7b7b">USP4</text>
<text transform="translate(703.64 1096.2) rotate(-90)" text-anchor="end" font-size="20.2" fill="#7b7b7b">USP40</text>
<text transform="translate(723.77 1096.2) rotate(-90)" text-anchor="end" font-size="20.2" fill="#7b7b7b">USP42</text>
<text transform="translate(743.9 1096.2) rotate(-90)" text-anchor="end" font-size="20.2" fill="#7b7b7b">USP43</text>
<text transform="translate(764.03 1096.2) rotate(-90)" text-anchor="end" font-size="20.2" fill="#7b7b7b">USP46</text>
<text transform="translate(784.16 1096.2) rotate(-90)" text-anchor="end" font-size="20.2" fill="#7b7b7b">USP47</text>
<text transform="translate(804.29 1096.2) rotate(-90)" text-anchor="end" font-size="20.2" font-weight="bold" fill="#000">USP48</text>
<text transform="translate(824.42 1096.2) rotate(-90)" text-anchor="end" font-size="20.2" fill="#7b7b7b">USP5</text>
<text transform="translate(844.55 1096.2) rotate(-90)" text-anchor="end" font-size="20.2" fill="#7b7b7b">USP51</text>
<text transform="translate(864.68 1096.2) rotate(-90)" text-anchor="end" font-size="20.2" font-weight="bold" fill="#000">USP53</text>
<text transform="translate(884.81 1096.2) rotate(-90)" text-anchor="end" font-size="20.2" font-weight="bold" fill="#000">USP54</text>
<text transform="translate(904.94 1096.2) rotate(-90)" text-anchor="end" font-size="20.2" font-weight="bold" fill="#000">USP7</text>
<text transform="translate(925.07 1096.2) rotate(-90)" text-anchor="end" font-size="20.2" fill="#7b7b7b">USP8</text>
<text transform="translate(945.2 1096.2) rotate(-90)" text-anchor="end" font-size="20.2" font-weight="bold" fill="#000">USP9X</text>
<text transform="translate(965.33 1096.2) rotate(-90)" text-anchor="end" font-size="20.2" fill="#7b7b7b">USP9Y</text>
<text transform="translate(985.46 1096.2) rotate(-90)" text-anchor="end" font-size="20.2" font-weight="bold" fill="#000">BAP1</text>
<text transform="translate(1005.59 1096.2) rotate(-90)" text-anchor="end" font-size="20.2" font-weight="bold" fill="#000">UCHL1</text>
<text transform="translate(1025.72 1096.2) rotate(-90)" text-anchor="end" font-size="20.2" font-weight="bold" fill="#000">UCHL3</text>
<text transform="translate(1045.85 1096.2) rotate(-90)" text-anchor="end" font-size="20.2" fill="#7b7b7b">UCHL5</text>
<text transform="translate(1065.98 1096.2) rotate(-90)" text-anchor="end" font-size="20.2" fill="#7b7b7b">OTUB1</text>
<text transform="translate(1086.11 1096.2) rotate(-90)" text-anchor="end" font-size="20.2" fill="#7b7b7b">OTUB2</text>
<text transform="translate(1106.24 1096.2) rotate(-90)" text-anchor="end" font-size="20.2" fill="#7b7b7b">OTUD1</text>
<text transform="translate(1126.37 1096.2) rotate(-90)" text-anchor="end" font-size="20.2" fill="#7b7b7b">OTUD3</text>
<text transform="translate(1146.5 1096.2) rotate(-90)" text-anchor="end" font-size="20.2" fill="#7b7b7b">OTUD4</text>
<text transform="translate(1166.63 1096.2) rotate(-90)" text-anchor="end" font-size="20.2" fill="#7b7b7b">OTUD5</text>
<text transform="translate(1186.76 1096.2) rotate(-90)" text-anchor="end" font-size="20.2" fill="#7b7b7b">OTUD6B</text>
<text transform="translate(1206.89 1096.2) rotate(-90)" text-anchor="end" font-size="20.2" font-weight="bold" fill="#000">OTUD7A</text>
<text transform="translate(1227.02 1096.2) rotate(-90)" text-anchor="end" font-size="20.2" fill="#7b7b7b">OTUD7B</text>
<text transform="translate(1247.15 1096.2) rotate(-90)" text-anchor="end" font-size="20.2" fill="#7b7b7b">OTULIN</text>
<text transform="translate(1267.28 1096.2) rotate(-90)" text-anchor="end" font-size="20.2" font-weight="bold" fill="#000">VCPIP1</text>
<text transform="translate(1287.41 1096.2) rotate(-90)" text-anchor="end" font-size="20.2" fill="#7b7b7b">YOD1</text>
<text transform="translate(1307.54 1096.2) rotate(-90)" text-anchor="end" font-size="20.2" fill="#7b7b7b">ZRANB1</text>
<text transform="translate(1327.67 1096.2) rotate(-90)" text-anchor="end" font-size="20.2" fill="#7b7b7b">ZUP1</text>
<text transform="translate(1347.8 1096.2) rotate(-90)" text-anchor="end" font-size="20.2" fill="#7b7b7b">ATXN3</text>
<text transform="translate(1367.93 1096.2) rotate(-90)" text-anchor="end" font-size="20.2" font-weight="bold" fill="#000">JOSD1</text>
<text transform="translate(1388.06 1096.2) rotate(-90)" text-anchor="end" font-size="20.2" fill="#7b7b7b">JOSD2</text>
<text transform="translate(1408.19 1096.2) rotate(-90)" text-anchor="end" font-size="20.2" fill="#7b7b7b">FAM188A</text>
<text transform="translate(1428.32 1096.2) rotate(-90)" text-anchor="end" font-size="20.2" fill="#7b7b7b">FAM188B</text>
<text x="652.75" y="1199.3" font-size="35" fill="#000">65 detected DUBs</text>
<rect x="130" y="1232" width="6.6" height="50.7" fill="#a3d20f"/>
<rect x="150.2" y="1232" width="6.6" height="12.8" fill="#a3d20f"/>
<rect x="170.4" y="1232" width="6.6" height="6.7" fill="#a3d20f"/>
<rect x="190.6" y="1232" width="6.6" height="4.5" fill="#a3d20f"/>
<rect x="210.8" y="1232" width="6.6" height="5.9" fill="#a3d20f"/>
<rect x="231" y="1232" width="6.6" height="20" fill="#a3d20f"/>
<rect x="251.2" y="1232" width="6.6" height="10.7" fill="#a3d20f"/>
<rect x="271.4" y="1232" width="6.6" height="4.5" fill="#a3d20f"/>
<rect x="291.6" y="1232" width="6.6" height="5.3" fill="#a3d20f"/>
<rect x="311.8" y="1232" width="6.6" height="15.5" fill="#a3d20f"/>
<rect x="332" y="1232" width="6.6" height="3.5" fill="#a3d20f"/>
<rect x="352.2" y="1232" width="6.6" height="5.3" fill="#a3d20f"/>
<rect x="372.4" y="1232" width="6.6" height="15.5" fill="#a3d20f"/>
<rect x="392.6" y="1232" width="6.6" height="2.7" fill="#a3d20f"/>
<rect x="412.8" y="1232" width="6.6" height="5.3" fill="#a3d20f"/>
<rect x="433" y="1232" width="6.6" height="1.6" fill="#a3d20f"/>
<rect x="453.2" y="1232" width="6.6" height="8" fill="#a3d20f"/>
<rect x="473.4" y="1232" width="6.6" height="4.5" fill="#a3d20f"/>
<rect x="493.6" y="1232" width="6.6" height="4.5" fill="#a3d20f"/>
<rect x="513.8" y="1232" width="6.6" height="1.3" fill="#a3d20f"/>
<rect x="534" y="1232" width="6.6" height="1.9" fill="#a3d20f"/>
<rect x="554.2" y="1232" width="6.6" height="4.5" fill="#a3d20f"/>
<rect x="574.4" y="1232" width="6.6" height="3.5" fill="#a3d20f"/>
<rect x="594.6" y="1232" width="6.6" height="1.9" fill="#a3d20f"/>
<rect x="614.8" y="1232" width="6.6" height="4" fill="#a3d20f"/>
<rect x="635" y="1232" width="6.6" height="3.5" fill="#a3d20f"/>
<rect x="655.2" y="1232" width="6.6" height="1.3" fill="#a3d20f"/>
<rect x="675.4" y="1232" width="6.6" height="11.5" fill="#a3d20f"/>
<rect x="695.6" y="1232" width="6.6" height="1.3" fill="#a3d20f"/>
<rect x="715.8" y="1232" width="6.6" height="2.1" fill="#a3d20f"/>
<rect x="756.2" y="1232" width="6.6" height="4.5" fill="#a3d20f"/>
<rect x="776.4" y="1232" width="6.6" height="3.5" fill="#a3d20f"/>
<rect x="796.6" y="1232" width="6.6" height="3.5" fill="#a3d20f"/>
<rect x="816.8" y="1232" width="6.6" height="8.3" fill="#a3d20f"/>
<rect x="837" y="1232" width="6.6" height="1.3" fill="#a3d20f"/>
<rect x="857.2" y="1232" width="6.6" height="1.3" fill="#a3d20f"/>
<rect x="897.6" y="1232" width="6.6" height="45.6" fill="#a3d20f"/>
<rect x="917.8" y="1232" width="6.6" height="18" fill="#a3d20f"/>
<rect x="938" y="1232" width="6.6" height="22.4" fill="#a3d20f"/>
<rect x="958.2" y="1232" width="6.6" height="7" fill="#a3d20f"/>
<rect x="978.4" y="1232" width="6.6" height="23" fill="#fbdf4c"/>
<rect x="998.6" y="1232" width="6.6" height="242.8" fill="#fbdf4c"/>
<rect x="1018.8" y="1232" width="6.6" height="11.6" fill="#fbdf4c"/>
<rect x="1039" y="1232" width="6.6" height="12.8" fill="#fbdf4c"/>
<rect x="1059.2" y="1232" width="6.6" height="9.6" fill="#ab2119"/>
<rect x="1079.4" y="1232" width="6.6" height="2.4" fill="#ab2119"/>
<rect x="1099.6" y="1232" width="6.6" height="2.4" fill="#ab2119"/>
<rect x="1119.8" y="1232" width="6.6" height="2.4" fill="#ab2119"/>
<rect x="1140" y="1232" width="6.6" height="2.4" fill="#ab2119"/>
<rect x="1160.2" y="1232" width="6.6" height="3.2" fill="#ab2119"/>
<rect x="1180.4" y="1232" width="6.6" height="2" fill="#ab2119"/>
<rect x="1200.6" y="1232" width="6.6" height="1.6" fill="#ab2119"/>
<rect x="1220.8" y="1232" width="6.6" height="5.6" fill="#ab2119"/>
<rect x="1241" y="1232" width="6.6" height="6.6" fill="#ab2119"/>
<rect x="1261.2" y="1232" width="6.6" height="2" fill="#ab2119"/>
<rect x="1281.4" y="1232" width="6.6" height="3.6" fill="#ab2119"/>
<rect x="1301.6" y="1232" width="6.6" height="2" fill="#ab2119"/>
<rect x="1321.8" y="1232" width="6.6" height="1.2" fill="#303030"/>
<rect x="1342" y="1232" width="6.6" height="54.6" fill="#7f90cf"/>
<rect x="1362.2" y="1232" width="6.6" height="1.2" fill="#4a5a8a"/>
<line x1="110" y1="1232.3" x2="1436" y2="1232.3" stroke="#000" stroke-width="2"/>
<line x1="123.6" y1="1231.3" x2="123.6" y2="1512.2" stroke="#000" stroke-width="2"/>
<text x="88.1" y="1242.4" font-size="30" fill="#000">0</text>
<line x1="107.7" y1="1267.4" x2="123.6" y2="1267.4" stroke="#000" stroke-width="2"/>
<text x="55.55" y="1275.6" font-size="30" fill="#000">500</text>
<line x1="107.7" y1="1306.1" x2="123.6" y2="1306.1" stroke="#000" stroke-width="2"/>
<text x="38.8" y="1314.3" font-size="30" fill="#000">1000</text>
<line x1="107.7" y1="1344.6" x2="123.6" y2="1344.6" stroke="#000" stroke-width="2"/>
<text x="38.8" y="1352.8" font-size="30" fill="#000">1500</text>
<line x1="107.7" y1="1383.1" x2="123.6" y2="1383.1" stroke="#000" stroke-width="2"/>
<text x="38.8" y="1391.3" font-size="30" fill="#000">2000</text>
<line x1="107.7" y1="1421.8" x2="123.6" y2="1421.8" stroke="#000" stroke-width="2"/>
<text x="38.8" y="1430" font-size="30" fill="#000">2500</text>
<line x1="107.7" y1="1460.7" x2="123.6" y2="1460.7" stroke="#000" stroke-width="2"/>
<text x="38.8" y="1468.9" font-size="30" fill="#000">3000</text>
<line x1="107.7" y1="1499.3" x2="123.6" y2="1499.3" stroke="#000" stroke-width="2"/>
<text x="38.8" y="1507.5" font-size="30" fill="#000">3500</text>
<text transform="translate(28 0) rotate(-90)" x="-1515.8" y="0" font-size="30" fill="#000"># of Pubmed articles</text>
</svg></body></html>
